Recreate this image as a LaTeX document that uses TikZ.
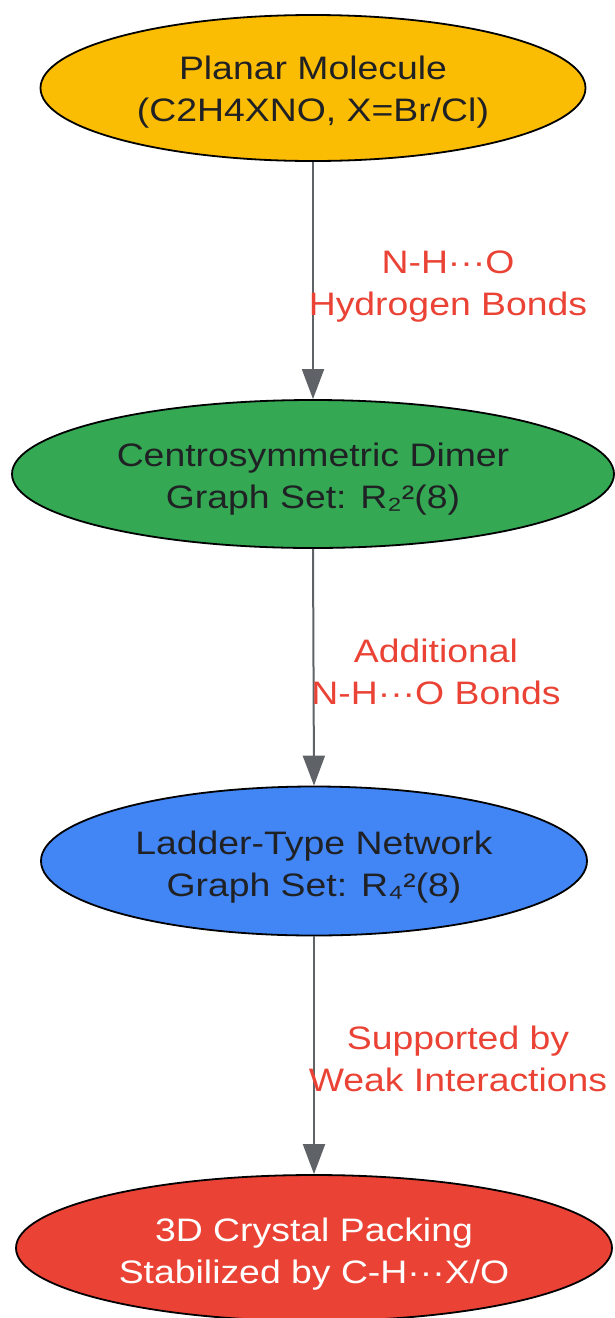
\documentclass[tikz,border=0pt]{standalone}
\usepackage{fontspec}
\setmainfont{Liberation Sans}[FakeStretch=1.15]
\usetikzlibrary{shapes.geometric,arrows.meta}
\definecolor{cyellow}{HTML}{FBBC04}
\definecolor{cgreen}{HTML}{34A853}
\definecolor{cblue}{HTML}{4285F4}
\definecolor{cred}{HTML}{EA4335}
\definecolor{ctext}{HTML}{202124}
\definecolor{cedge}{HTML}{5F6368}
\tikzset{
  stage/.style={ellipse, draw=black, line width=1.8pt, inner sep=0pt},
  stagetext/.style={align=center, text=ctext, font=\fontsize{32.5}{42}\selectfont},
  lbl/.style={align=center, text=cred, font=\fontsize{32.5}{42}\selectfont},
  flow/.style={draw=cedge, line width=2pt, -{Triangle[length=30pt,width=22pt]}}
}
\begin{document}
\begin{tikzpicture}[x=1pt,y=-1pt]
\useasboundingbox (0,0) rectangle (615,1318);
\node[stage, fill=cyellow, minimum width=545pt, minimum height=146pt] (n1) at (313,88) {};
\node[stage, fill=cgreen, minimum width=602pt, minimum height=148pt] (n2) at (313,474) {};
\node[stage, fill=cblue, minimum width=546pt, minimum height=149pt] (n3) at (314,861) {};
\node[stage, fill=cred, minimum width=596pt, minimum height=146pt] (n4) at (314,1248) {};
\node[stagetext, yshift=-4pt] (t1) at (n1.center) {Planar Molecule\\(C2H4XNO, X=Br/Cl)};
\node[stagetext, yshift=-5pt] (t2) at (n2.center) {Centrosymmetric Dimer\\Graph Set: R₂²(8)};
\node[stagetext, yshift=-6pt] (t3) at (n3.center) {Ladder-Type Network\\Graph Set: R₄²(8)};
\node[stagetext, text=white, yshift=-6pt] (t4) at (n4.center) {3D Crystal Packing\\Stabilized by C-H···X/O};
\draw[flow] (n1.south) -- (n2.north);
\draw[flow] (n2.south) -- (n3.north);
\draw[flow] (n3.south) -- (n4.north);
\node[lbl] (l1) at (448,287) {N-H···O\\Hydrogen Bonds};
\node[lbl] (l2) at (436,672) {Additional\\N-H···O Bonds};
\node[lbl] (l3) at (458,1059) {Supported by\\Weak Interactions};
\end{tikzpicture}
\end{document}
